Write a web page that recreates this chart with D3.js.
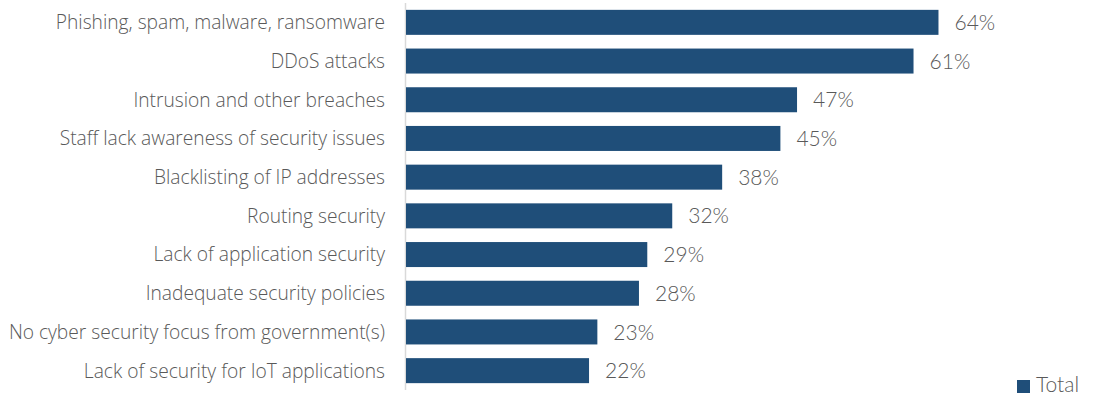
<!DOCTYPE html>
<html>
<head>
<meta charset="utf-8">
<script src="https://cdn.jsdelivr.net/npm/d3@7"></script>
<style>
  body { margin: 0; background: #fff; }
  svg text { font-family: Lato, "Open Sans", sans-serif; font-weight: 300; fill: #595959; }
  svg text.cat { font-family: "Open Sans", Lato, sans-serif; }
</style>
</head>
<body>
<svg id="chart" width="1098" height="395"></svg>
<script>
var categories = [
  "Phishing, spam, malware, ransomware",
  "DDoS attacks",
  "Intrusion and other breaches",
  "Staff lack awareness of security issues",
  "Blacklisting of IP addresses",
  "Routing security",
  "Lack of application security",
  "Inadequate security policies",
  "No cyber security focus from government(s)",
  "Lack of security for IoT applications"
];
var values = [64, 61, 47, 45, 38, 32, 29, 28, 23, 22];
var seriesName = "Total";

var svg = d3.select("#chart");

var x = d3.scaleLinear().domain([0, 100]).range([406, 1238]);
var y = d3.scaleBand().domain(categories).range([3, 390]).paddingInner(0.354).paddingOuter(0.177);

// axis line
svg.append("line")
  .attr("x1", 405.5).attr("x2", 405.5)
  .attr("y1", 3).attr("y2", 390)
  .attr("stroke", "#d9d9d9").attr("stroke-width", 1.5);

svg.selectAll("rect.bar")
  .data(values)
  .enter()
  .append("rect")
  .attr("class", "bar")
  .attr("x", x(0))
  .attr("y", function(d, i) { return y(categories[i]); })
  .attr("width", function(d) { return x(d) - x(0); })
  .attr("height", y.bandwidth())
  .attr("fill", "#1f4e79");

svg.selectAll("text.val")
  .data(values)
  .enter()
  .append("text")
  .attr("class", "val")
  .attr("x", function(d) { return x(d) + 16; })
  .attr("y", function(d, i) { return y(categories[i]) + y.bandwidth() / 2; })
  .attr("dy", "0.36em")
  .style("font-size", "21px")
  .text(function(d) { return d + "%"; });

svg.selectAll("text.cat")
  .data(categories)
  .enter()
  .append("text")
  .attr("class", "cat")
  .attr("x", 385)
  .attr("y", function(d) { return y(d) + y.bandwidth() / 2; })
  .attr("dy", "0.36em")
  .attr("text-anchor", "end")
  .style("font-size", "19.2px")
  .text(function(d) { return d; });

// legend
svg.append("rect")
  .attr("x", 1017).attr("y", 380)
  .attr("width", 13).attr("height", 13)
  .attr("fill", "#1f4e79");
svg.append("text")
  .attr("x", 1036).attr("y", 392)
  .style("font-size", "21px")
  .text(seriesName);
</script>
</body>
</html>
